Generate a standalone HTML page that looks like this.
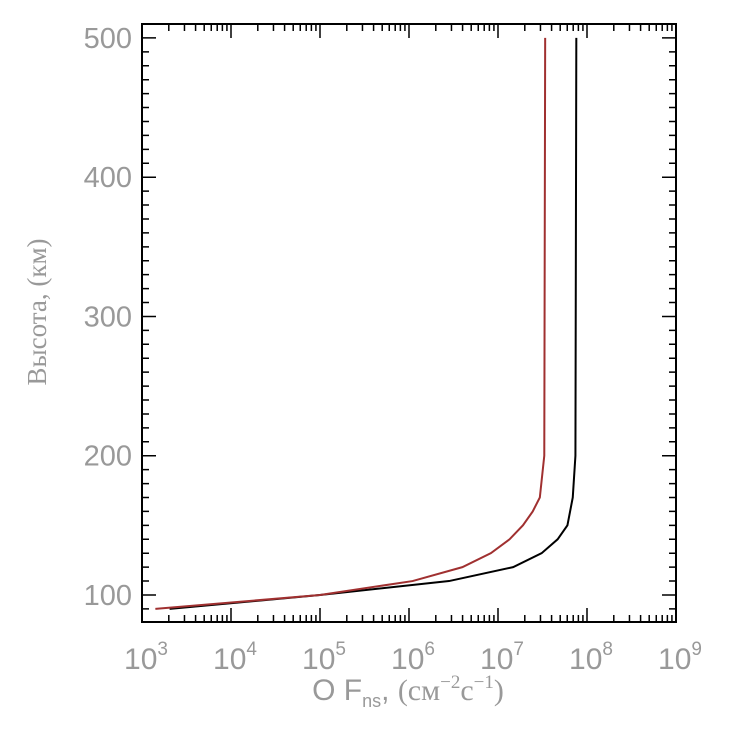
<!DOCTYPE html>
<html><head><meta charset="utf-8"><style>
body{margin:0;background:#fff;width:729px;height:727px;overflow:hidden}
svg text{font-family:"Liberation Sans",sans-serif;fill:#999;font-weight:300}
</style></head><body>
<svg id="chart" width="729" height="727" viewBox="0 0 729 727" xmlns="http://www.w3.org/2000/svg">
<g id="axes"></g>
<g id="series"></g>
<text transform="translate(46,312) rotate(-90)" text-anchor="middle" font-size="27" style="font-family:'Liberation Serif',serif">Высота, (км)</text>
<text x="408" y="700" text-anchor="middle" font-size="30">O F<tspan font-size="18" dy="7">ns</tspan><tspan dy="-7">, </tspan><tspan style="font-family:'Liberation Serif',serif">(см<tspan font-size="19" dy="-12">−2</tspan><tspan dy="12">с</tspan><tspan font-size="19" dy="-12">−1</tspan><tspan dy="12">)</tspan></tspan></text>
</svg>
<script>
const xTickExps=[3,4,5,6,7,8,9];
const yTickVals=[100,200,300,400,500];
const heightsBlack=[90,100,110,120,130,140,150,170,200,500];
const fluxBlackLog=[3.31,5.0,6.45,7.17,7.49,7.67,7.78,7.84,7.87,7.88];
const heightsRed=[90,100,110,120,130,140,150,160,170,200,500];
const fluxRedLog=[3.15,5.0,6.04,6.6,6.92,7.13,7.28,7.39,7.47,7.52,7.53];
const L=142,R=676,T=24,B=622;
const xMin=3,xMax=9,yMin=80.6,yMax=510;
const sx=v=>L+(v-xMin)/(xMax-xMin)*(R-L);
const sy=v=>B-(v-yMin)/(yMax-yMin)*(B-T);
const NS="http://www.w3.org/2000/svg";
const axes=document.getElementById('axes');
function mk(tag,attrs,parent){const e=document.createElementNS(NS,tag);for(const k in attrs)e.setAttribute(k,attrs[k]);parent.appendChild(e);return e;}
const fr=mk('rect',{x:L,y:T,width:R-L,height:B-T,fill:'none',stroke:'#000','stroke-width':2},axes);


let d='';
for(let e=xMin;e<xMax;e++){for(let m=1;m<10;m++){const x=sx(e+Math.log10(m));const len=m===1?14:7;d+=`M${x},${B}v${-len}M${x},${T}v${len}`;}}
d+=`M${sx(xMax)},${B}v-14M${sx(xMax)},${T}v14`;
for(let v=90;v<=510;v+=10){const y=sy(v);const len=v%100===0?14:7;d+=`M${L},${y}h${len}M${R},${y}h${-len}`;}
const tk=mk('path',{d:d,stroke:'#000','stroke-width':1.5,fill:'none'},axes);


xTickExps.forEach(e=>{const t=mk('text',{x:sx(e)+4,y:669,'text-anchor':'middle','font-size':30},axes);


t.innerHTML=`10<tspan font-size="19" dy="-14">${e}</tspan>`;});
yTickVals.forEach(v=>{const t=mk('text',{x:132,y:sy(v)+10,'text-anchor':'end','font-size':29},axes);


t.textContent=v;});
const ser=document.getElementById('series');
function line(xs,ys,color,name){const p=mk('polyline',{points:xs.map((x,i)=>sx(x)+','+sy(ys[i])).join(' '),fill:'none',stroke:color,'stroke-width':2},ser);

}
line(fluxBlackLog,heightsBlack,'#000','black-series-line');
line(fluxRedLog,heightsRed,'#a03030','red-series-line');
</script>
</body></html>
